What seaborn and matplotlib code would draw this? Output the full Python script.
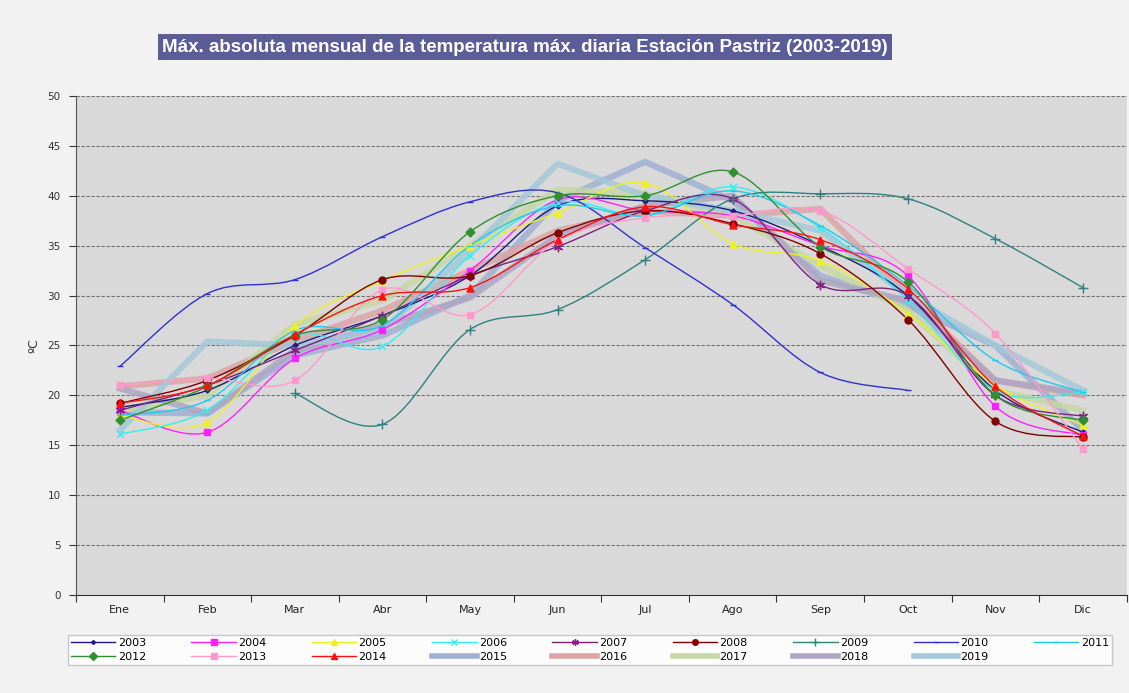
import numpy as np
import pandas as pd
import matplotlib
matplotlib.use("Agg")
import matplotlib.pyplot as plt
import seaborn as sns
from matplotlib.path import Path
from matplotlib.patches import PathPatch
from matplotlib.lines import Line2D

# Data
months = ["Ene", "Feb", "Mar", "Abr", "May", "Jun", "Jul", "Ago", "Sep", "Oct", "Nov", "Dic"]

t2003 = [18.8, 20.5, 25.0, 28.0, 32.0, 39.0, 39.5, 38.5, 35.0, 30.0, 20.5, 16.3]
t2004 = [18.5, 16.3, 23.7, 26.6, 32.5, 39.6, 38.5, 38.0, 35.0, 32.0, 18.9, 16.0]
t2005 = [18.0, 17.3, 27.0, 31.5, 35.0, 38.3, 41.3, 35.2, 33.5, 28.2, 21.0, 17.0]
t2006 = [16.1, 18.5, 26.0, 24.9, 34.0, 39.3, 38.0, 40.9, 36.8, 29.5, 20.5, 20.3]
t2007 = [18.5, 21.0, 24.5, 28.0, 32.0, 34.9, 38.5, 39.7, 31.1, 30.0, 20.0, 17.9]
t2008 = [19.2, 21.5, 26.0, 31.6, 32.0, 36.3, 38.5, 37.2, 34.2, 27.6, 17.4, 15.8]
t2009 = [None, None, 20.2, 17.1, 26.6, 28.6, 33.6, 39.7, 40.2, 39.7, 35.7, 30.8]
t2010 = [22.9, 30.2, 31.6, 35.9, 39.4, 40.3, 34.8, 29.1, 22.3, 20.5, None, None]
t2011 = [18.0, 19.5, 26.5, 27.0, 35.0, 39.0, 38.0, 40.5, 37.0, 31.0, 23.5, 20.3]
t2012 = [17.5, 20.9, 26.0, 27.6, 36.4, 40.0, 40.0, 42.4, 34.9, 31.4, 20.0, 17.5]
t2013 = [21.0, 21.7, 21.5, 30.6, 28.1, 35.5, 37.8, 38.0, 38.5, 32.7, 26.2, 14.6]
t2014 = [19.2, 21.0, 26.1, 30.0, 30.8, 35.6, 38.9, 37.1, 35.6, 30.7, 20.9, 15.9]
t2015 = [18.3, 18.2, 24.0, 26.0, 30.0, 39.5, 43.4, 39.5, 32.0, 29.0, 25.0, 16.5]
t2016 = [20.9, 21.7, 25.5, 28.5, 32.5, 36.5, 38.5, 38.0, 38.7, 30.0, 21.5, 20.0]
t2017 = [18.5, 20.0, 27.1, 29.5, 35.0, 40.6, 40.2, 38.0, 33.0, 28.5, 20.5, 18.5]
t2018 = [20.7, 18.2, 24.5, 27.0, 29.8, 36.0, 39.0, 40.0, 31.5, 29.5, 21.5, 20.2]
t2019 = [16.5, 25.4, 25.0, 26.5, 34.5, 43.2, 40.0, 38.5, 36.5, 30.0, 25.0, 20.5]

thin = {
    "2003": t2003, "2004": t2004, "2005": t2005, "2006": t2006,
    "2007": t2007, "2008": t2008, "2009": t2009, "2010": t2010,
    "2011": t2011, "2012": t2012, "2013": t2013, "2014": t2014,
}
thick = {"2015": t2015, "2016": t2016, "2017": t2017, "2018": t2018, "2019": t2019}

colors = {
    "2003": "#1a1a80", "2004": "#ff20ff", "2005": "#f0f020", "2006": "#30f0f0",
    "2007": "#802080", "2008": "#800000", "2009": "#308080", "2010": "#3030d0",
    "2011": "#20c8f0", "2012": "#309030", "2013": "#ff99cc", "2014": "#ff1010",
    "2015": "#a0b0d4", "2016": "#dca4a4", "2017": "#c6d8a4", "2018": "#aea6c4",
    "2019": "#a4c8d8",
}
markers = {
    "2003": "D", "2004": "s", "2005": "^", "2006": "x", "2007": (6, 2, 0),
    "2008": "o", "2009": "+", "2010": "_", "2011": "_", "2012": "D",
    "2013": "s", "2014": "^",
}
msizes = {
    "2003": 2.5, "2004": 5, "2005": 5, "2006": 5, "2007": 6, "2008": 5,
    "2009": 7, "2010": 4, "2011": 4, "2012": 4.5, "2013": 5, "2014": 5,
}


def smooth_path(xs, ys):
    # Excel-style smoothed line: cubic Bezier through the points
    verts, codes = [], []
    n = len(xs)
    for i in range(n - 1):
        p0 = np.array([xs[max(i - 1, 0)], ys[max(i - 1, 0)]])
        p1 = np.array([xs[i], ys[i]])
        p2 = np.array([xs[i + 1], ys[i + 1]])
        p3 = np.array([xs[min(i + 2, n - 1)], ys[min(i + 2, n - 1)]])
        c1 = p1 + (p2 - p0) / 6.0
        c2 = p2 - (p3 - p1) / 6.0
        if i == 0:
            verts.append(tuple(p1))
            codes.append(Path.MOVETO)
        verts += [tuple(c1), tuple(c2), tuple(p2)]
        codes += [Path.CURVE4] * 3
    return Path(verts, codes)


fig = plt.figure(figsize=(11.29, 6.93), dpi=100)
fig.patch.set_facecolor("#f2f2f2")
ax = fig.add_axes([0.0673, 0.1414, 0.9307, 0.7201])
ax.set_facecolor("#d9d9d9")

x = np.arange(len(months))

# thick straight series
rows = []
for yr, vals in thick.items():
    for i, v in enumerate(vals):
        rows.append({"mes": i, "year": yr, "t": v})
df_thick = pd.DataFrame(rows)
sns.lineplot(data=df_thick, x="mes", y="t", hue="year",
             palette={k: colors[k] for k in thick}, linewidth=4.5,
             alpha=0.85, legend=False, ax=ax, zorder=2, estimator=None)

# thin smoothed series
for yr, vals in thin.items():
    arr = np.array([np.nan if v is None else v for v in vals], dtype=float)
    ok = ~np.isnan(arr)
    xs, ys = x[ok], arr[ok]
    ax.add_patch(PathPatch(smooth_path(xs, ys), fill=False,
                           edgecolor=colors[yr], linewidth=1.0, zorder=3))
    sns.scatterplot(x=xs, y=ys, marker=markers[yr], color=colors[yr],
                    s=msizes[yr] ** 2, linewidth=1.0, edgecolor=colors[yr],
                    ax=ax, zorder=4, legend=False)

ax.set_xlim(-0.5, 11.5)
ax.set_ylim(0, 50)
ax.set_yticks(range(0, 51, 5))
ax.set_xticks(np.arange(-0.5, 12, 1))
ax.set_xticklabels([])
ax.set_xticks(x, minor=True)
ax.set_xticklabels(months, minor=True, fontsize=8, color="#222222")
ax.tick_params(axis="x", which="minor", length=0, pad=7)
ax.tick_params(axis="x", which="major", length=5, color="#333333", direction="out")
ax.tick_params(axis="y", length=5, color="#333333", labelsize=7.5, labelcolor="#333333", pad=6)
for yv in range(5, 51, 5):
    ax.axhline(yv, color="#707070", linewidth=0.8, linestyle=(0, (3, 1.5)), zorder=1)
for s in ["top", "right"]:
    ax.spines[s].set_visible(False)
ax.spines["left"].set_color("#555555")
ax.spines["bottom"].set_color("#333333")
ax.set_xlabel("")
ax.set_ylabel("ºC", fontsize=9, labelpad=5, color="#333333")

fig.text(0.465, 0.932,
         "Máx. absoluta mensual de la temperatura máx. diaria Estación Pastriz (2003-2019)",
         ha="center", va="center", color="white", fontsize=13.5, fontweight="bold",
         family=["Liberation Sans Narrow", "Liberation Sans", "DejaVu Sans"],
         bbox=dict(boxstyle="square,pad=0.22", facecolor="#5c5c98", edgecolor="none"))

# legend: row 1 = 2003..2011, row 2 = 2012..2019
handles = {}
for yr in thin:
    handles[yr] = Line2D([], [], color=colors[yr], linewidth=1.0, marker=markers[yr],
                         markersize=msizes[yr] * 0.8, markeredgecolor=colors[yr])
for yr in thick:
    handles[yr] = Line2D([], [], color=colors[yr], linewidth=4)
row1 = ["2003", "2004", "2005", "2006", "2007", "2008", "2009", "2010", "2011"]
row2 = ["2012", "2013", "2014", "2015", "2016", "2017", "2018", "2019"]
order = []
for i in range(9):
    order.append(row1[i])
    if i < len(row2):
        order.append(row2[i])
leg = fig.legend([handles[k] for k in order], order, loc="center", ncol=9,
                 bbox_to_anchor=(0.055, 0.03, 0.935, 0.064), mode="expand",
                 fontsize=8, handlelength=4, frameon=True, fancybox=False,
                 borderpad=0.3, labelspacing=0.3, handletextpad=0.2)
leg.get_frame().set_facecolor("white")
leg.get_frame().set_edgecolor("#bbbbbb")

fig.savefig("out.png", dpi=100, facecolor=fig.get_facecolor())
